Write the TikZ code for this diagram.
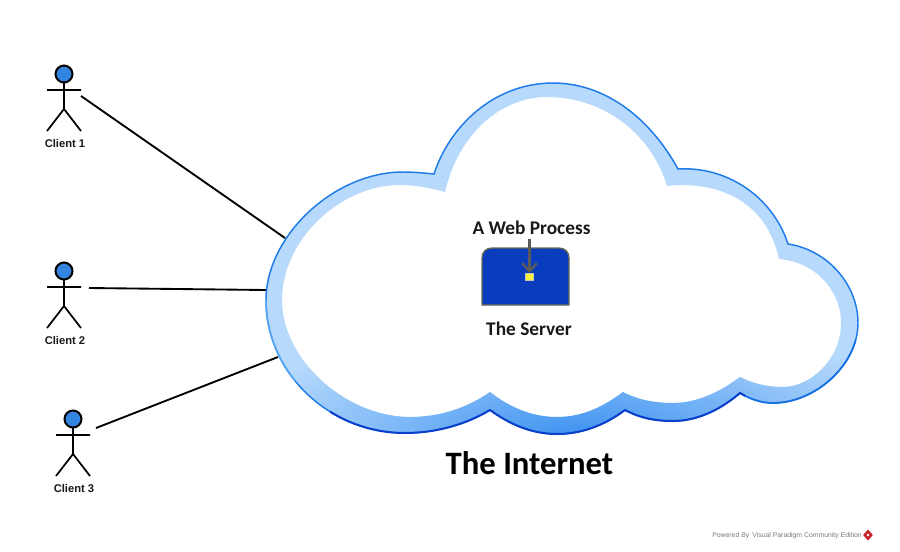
\documentclass[tikz,border=0pt]{standalone}
\usepackage{fontspec}
\setmainfont{Liberation Sans}
\newfontfamily\titlefont{Carlito}
\usetikzlibrary{arrows.meta,shapes.geometric}
\definecolor{ringbase}{HTML}{B6D9FC}
\definecolor{ringdeep}{HTML}{3A90F0}
\definecolor{rimtop}{HTML}{1E7BE8}
\definecolor{rimleft}{HTML}{55A6F5}
\definecolor{rimdark}{HTML}{0A3FCB}
\definecolor{rimmid}{HTML}{1670E2}
\definecolor{serverblue}{HTML}{0A3DBE}
\definecolor{serverrim}{HTML}{6B6A55}
\definecolor{arrowgrey}{HTML}{5A5A5A}
\definecolor{procyellow}{HTML}{F5F23A}
\definecolor{vpgrey}{HTML}{7A7A7A}
\definecolor{vpred}{HTML}{C8252C}
\definecolor{headblue}{HTML}{3484E2}
\tikzset{
  cloudouter/.style={insert path={
    (490,410) .. controls (465,425) and (435,433) .. (405,433)
    .. controls (329,433) and (266,373) .. (266,300)
    .. controls (266,236) and (334,172) .. (403,172)
    .. controls (414,172) and (424,173) .. (434,174)
    .. controls (450,125) and (495,83) .. (553,83)
    .. controls (605,83) and (650,118) .. (678,169)
    .. controls (725,166) and (772,195) .. (788,244)
    .. controls (828,250) and (858,285) .. (858,323)
    .. controls (858,365) and (815,403) .. (773,403)
    .. controls (761,403) and (750,399) .. (740,393)
    .. controls (720,410) and (697,421) .. (673,421)
    .. controls (655,421) and (640,418) .. (625,410)
    .. controls (605,425) and (582,434) .. (557,434)
    .. controls (530,434) and (508,423) .. (490,410) -- cycle}},
  cloudinner/.style={insert path={
    (490,392) .. controls (467,408) and (440,417) .. (410,417)
    .. controls (346,417) and (282,360) .. (282,300)
    .. controls (282,240) and (340,185) .. (400,185)
    .. controls (415,185) and (430,188) .. (445,192)
    .. controls (458,135) and (500,97) .. (547,97)
    .. controls (600,97) and (650,130) .. (667,186)
    .. controls (710,181) and (765,195) .. (779,259)
    .. controls (815,262) and (841,290) .. (841,323)
    .. controls (841,360) and (810,387) .. (783,387)
    .. controls (765,387) and (752,383) .. (740,377)
    .. controls (720,392) and (697,403) .. (673,403)
    .. controls (655,403) and (638,400) .. (623,392)
    .. controls (603,407) and (582,417) .. (557,417)
    .. controls (530,417) and (508,406) .. (490,392) -- cycle}},
  clientlabel/.style={font=\bfseries\fontsize{8.4}{10}\selectfont,text=black!90,inner sep=0pt},
  link/.style={draw=black,line width=1.4pt},
  title/.style={font=\titlefont\bfseries\fontsize{14.5}{17}\selectfont,text=black!90,inner sep=0pt},
  bigtitle/.style={font=\titlefont\bfseries\fontsize{24.5}{28}\selectfont,text=black,inner sep=0pt},
  actor/.pic={
    \draw[line width=1.5pt,draw=black,fill=headblue] (0,0) circle (8.5);
    \draw[draw=black,line width=1.3pt] (-17,16) -- (17,16) (0,8.5) -- (0,35) (-17,57) -- (0,35) -- (17,57);
  },
}
\begin{document}
\begin{tikzpicture}[x=0.75pt,y=-0.75pt]
\useasboundingbox (0,0) rectangle (900,551);
% ring
\begin{scope}[even odd rule]
  \clip[cloudouter,cloudinner];
  \fill[ringbase] (0,0) rectangle (900,551);
  \shade[inner color=ringdeep,outer color=ringbase] (580,440) ellipse (340 and 130);
\end{scope}
% rim
\draw[rimtop,line width=1.1pt,cloudouter];
\begin{scope}
  \clip (255,300) rectangle (300,380);
  \draw[rimleft,line width=1.2pt,cloudouter];
\end{scope}
\begin{scope}
  \clip (745,340) rectangle (870,420);
  \draw[rimmid,line width=1.3pt,cloudouter];
\end{scope}
\begin{scope}
  \clip (330,385) rectangle (745,445);
  \draw[rimdark,line width=1.5pt,cloudouter];
\end{scope}
% server
\draw[serverrim,line width=1pt,fill=serverblue] (482,305) -- (482,258) .. controls (482,252) and (486,248) .. (492,248) -- (559,248) .. controls (565,248) and (569,252) .. (569,258) -- (569,305) -- cycle;
\node[fill=procyellow,draw=serverrim!40!white,line width=.3pt,minimum width=6pt,minimum height=5pt,inner sep=0pt] (proc) at (529.5,276.5) {};
\node[title] (webproc) at (531.5,228) {A Web Process};
\node[title] (srv) at (529,329) {The Server};
\coordinate (arrowtop) at (529.5,239);
\draw[arrowgrey,line width=2.4pt,-{Straight Barb[length=6pt,width=11pt,line width=1.8pt]}] (arrowtop) -- (proc.north);
\node[bigtitle] (net) at (529.5,463) {The Internet};
% actors
\pic at (64,74) {actor};
\pic at (64,271) {actor};
\pic at (73,419) {actor};
\node[clientlabel] (l1) at (65,143) {Client 1};
\node[clientlabel] (l2) at (65,340) {Client 2};
\node[clientlabel] (l3) at (74,488) {Client 3};
% links
\coordinate (h1) at (81,96);
\coordinate (h2) at (89,288);
\coordinate (h3) at (96,428);
\coordinate (e1) at (285,238);
\coordinate (e2) at (266,290);
\coordinate (e3) at (278,357);
\draw[link] (h1) -- (e1);
\draw[link] (h2) -- (e2);
\draw[link] (h3) -- (e3);
% footer
\node[font=\fontsize{5.15}{7}\selectfont,text=vpgrey,inner sep=0pt,anchor=west] (pw) at (712,535.5) {Powered By\, Visual Paradigm Community Edition};
\node[diamond,fill=vpred,minimum width=7.5pt,minimum height=8.5pt,inner sep=0pt] (vp) at (868,535) {};
\node[circle,fill=white,minimum size=2pt,inner sep=0pt] (vpc) at (868,535) {};
\end{tikzpicture}
\end{document}
